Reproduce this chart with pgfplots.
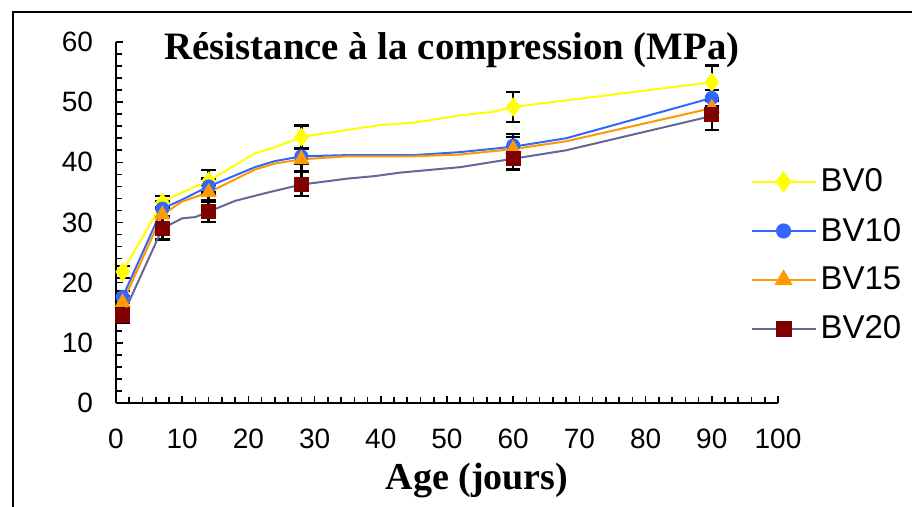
\documentclass[border=0pt]{standalone}
\usepackage{fontspec}
\setmainfont{Liberation Serif}
\setsansfont{Liberation Sans}
\usepackage{pgfplots}
\pgfplotsset{compat=1.18}
\definecolor{cY}{HTML}{FFFF00}
\definecolor{cB}{HTML}{3366FF}
\definecolor{cO}{HTML}{FF9900}
\definecolor{cR}{HTML}{800000}
\definecolor{cP}{HTML}{666699}
\pgfplotsset{errstyle/.style={forget plot, only marks, mark=*, mark options={draw opacity=0, fill opacity=0},
  error bars/y dir=both, error bars/y explicit, error bars/error mark=|,
  error bars/error bar style={draw=black, draw opacity=1, line width=1.2pt},
  error bars/error mark options={draw=black, draw opacity=1, mark size=3.6pt, line width=1.2pt}}}
\begin{document}
\begin{tikzpicture}
\path[use as bounding box] (0,0) rectangle (456pt,253.5pt);
\draw[line width=1pt] (6.5pt,-5pt) -- (6.5pt,247.5pt) -- (470pt,247.5pt);
\begin{axis}[
  at={(58pt,52pt)}, anchor=south west,
  scale only axis, width=331pt, height=180.5pt,
  xmin=0, xmax=100, ymin=0, ymax=60,
  axis lines=left,
  axis line style={line width=1pt, -},
  xtick={0,10,...,100}, ytick={0,10,...,60},
  minor tick num=4,
  tick style={black, line width=0.8pt},
  major tick length=3.5pt, minor tick length=3pt,
  xtick align=inside, ytick align=inside,
  tick label style={font=\sffamily\fontsize{14}{16}\selectfont},
  /pgf/number format/assume math mode=true,
  xticklabel style={yshift=-9.5pt},
  yticklabel style={xshift=-8pt},
  clip=false,
  legend style={at={(0.958,0.409)}, anchor=west, draw=none, fill=none,
    font=\sffamily\fontsize{16.5}{18}\selectfont, row sep=7.5pt, inner sep=0pt},
  legend cell align=left,
  legend image code/.code={\draw[#1, mark repeat=2, mark phase=2] plot coordinates {(0pt,0pt) (16pt,0pt) (32pt,0pt)};},
]
% error bars
\addplot[errstyle]
  coordinates {(1,21.8) +- (0,1.0) (7,33.3) +- (0,1.1) (14,36.9) +- (0,1.8) (28,44.2) +- (0,1.9) (60,49.2) +- (0,2.5) (90,53.3) +- (0,2.8)};
\addplot[errstyle]
  coordinates {(1,17.6) +- (0,1.0) (7,32.3) +- (0,1.2) (14,36.0) +- (0,1.3) (28,41.0) +- (0,1.2) (60,42.8) +- (0,1.9) (90,50.7) +- (0,1.3)};
\addplot[errstyle]
  coordinates {(1,16.7) +- (0,1.1) (7,31.3) +- (0,1.3) (14,35.0) +- (0,1.3) (28,40.5) +- (0,1.9) (60,42.2) +- (0,2.0) (90,49.0) +- (0,1.3)};
\addplot[errstyle]
  coordinates {(1,14.5) +- (0,1.2) (7,29.0) +- (0,1.8) (14,31.8) +- (0,1.7) (28,36.4) +- (0,2.0) (60,40.7) +- (0,1.9) (90,48.0) +- (0,2.6)};
% BV0
\addplot[forget plot, cY, line width=1pt, mark=none] coordinates {(1,21.8) (7,33.3) (9,34.5) (14,36.9) (21,41.5) (24,42.5) (28,44.2) (35,45.4) (40,46.2) (45,46.6) (52,47.8) (57,48.4) (60,49.2) (90,53.3)};
\addplot[forget plot, only marks, mark=diamond*, mark size=4.5pt, cY, mark options={fill=cY, draw=cY}] coordinates {(1,21.8) (7,33.3) (14,36.9) (28,44.2) (60,49.2) (90,53.3)};
% BV10
\addplot[forget plot, cB, line width=1pt, mark=none] coordinates {(1,17.6) (7,32.3) (10,33.8) (14,36.0) (21,39.2) (24,40.2) (28,41.0) (35,41.2) (45,41.2) (52,41.7) (60,42.6) (68,44.0) (90,50.7)};
\addplot[forget plot, only marks, mark=*, mark size=3.3pt, cB, mark options={fill=cB, draw=cB}] coordinates {(1,17.6) (7,32.3) (14,36.0) (28,41.0) (60,42.8) (90,50.7)};
% BV15
\addplot[forget plot, cO, line width=1pt, mark=none] coordinates {(1,16.7) (7,31.3) (10,33.5) (14,35.0) (21,38.8) (24,39.8) (28,40.5) (35,41.0) (45,41.0) (52,41.3) (60,42.2) (68,43.5) (90,49.0)};
\addplot[forget plot, only marks, mark=triangle*, mark size=4.3pt, cO, mark options={fill=cO, draw=cO}] coordinates {(1,16.7) (7,31.3) (14,35.0) (28,40.5) (60,42.2) (90,49.0)};
% BV20
\addplot[forget plot, cP, line width=1pt, mark=none] coordinates {(1,14.5) (7,29.0) (10,30.7) (12,30.9) (14,31.8) (18,33.6) (23,35.0) (28,36.3) (35,37.3) (39,37.7) (43,38.3) (52,39.2) (60,40.6) (68,42.0) (90,47.7)};
\addplot[forget plot, only marks, mark=square*, mark size=3.5pt, cR, mark options={fill=cR, draw=cR}] coordinates {(1,14.5) (7,29.0) (14,31.8) (28,36.4) (60,40.7) (90,48.0)};
% legend
\addlegendimage{cY, line width=1pt, mark=diamond*, mark size=4.5pt, mark options={fill=cY, draw=cY}}
\addlegendentry{BV0}
\addlegendimage{cB, line width=1pt, mark=*, mark size=3.3pt, mark options={fill=cB, draw=cB}}
\addlegendentry{BV10}
\addlegendimage{cO, line width=1pt, mark=triangle*, mark size=4.3pt, mark options={fill=cO, draw=cO}}
\addlegendentry{BV15}
\addlegendimage{cP, line width=1pt, mark=square*, mark size=3.5pt, mark options={fill=cR, draw=cR}}
\addlegendentry{BV20}
\end{axis}
\node[font=\bfseries\fontsize{19.4}{22}\selectfont] at (226pt,228.5pt) {Résistance à la compression (MPa)};
\node[font=\bfseries\fontsize{19}{22}\selectfont] at (238.5pt,13pt) {Age (jours)};
\end{tikzpicture}
\end{document}
